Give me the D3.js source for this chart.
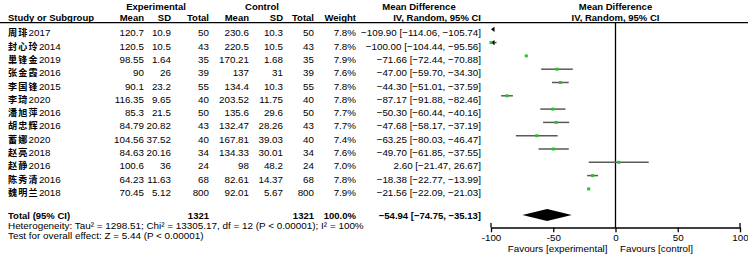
<!DOCTYPE html>
<html><head><meta charset="utf-8">
<script src="https://cdn.jsdelivr.net/npm/d3@7"></script>
<style>
html,body{margin:0;padding:0;background:#fff;}
svg text{font-family:"Liberation Sans",Arial,"Noto Sans CJK SC",sans-serif;fill:#000;}
</style></head>
<body><svg id="c" width="748" height="258"></svg>
<script>
const studies = ["周琲2017","封心玲2014","巢锋金2019","张金霞2016","李国锋2015","李琦2020","潘旭萍2016","胡忠辉2016","蓄娜2020","赵亮2018","赵静2016","陈秀清2016","魏明兰2018"];
const expMean = ["120.7","120.5","98.55","90","90.1","116.35","85.3","84.79","104.56","84.63","100.6","64.23","70.45"];
const expSD = ["10.9","10.5","1.64","26","23.2","9.65","21.5","20.82","37.52","20.16","36","11.63","5.12"];
const expTotal = [50,43,35,39,55,40,50,43,40,34,24,68,800];
const ctlMean = ["230.6","220.5","170.21","137","134.4","203.52","135.6","132.47","167.81","134.33","98","82.61","92.01"];
const ctlSD = ["10.3","10.5","1.68","31","10.3","11.75","29.6","28.26","39.03","30.01","48.2","14.37","5.67"];
const ctlTotal = [50,43,35,39,55,40,50,43,40,34,24,68,800];
const weight = ["7.8%","7.8%","7.9%","7.6%","7.8%","7.8%","7.7%","7.7%","7.4%","7.6%","7.0%","7.8%","7.9%"];
const md = [-109.90,-100.00,-71.66,-47.00,-44.30,-87.17,-50.30,-47.68,-63.25,-49.70,2.60,-18.38,-21.56];
const lower = [-114.06,-104.44,-72.44,-59.70,-51.01,-91.88,-60.44,-58.17,-80.03,-61.85,-21.47,-22.77,-22.09];
const upper = [-105.74,-95.56,-70.88,-34.30,-37.59,-82.46,-40.16,-37.19,-46.47,-37.55,26.67,-13.99,-21.03];
const total = {exp:1321, ctl:1321, weight:"100.0%", md:-54.94, lo:-74.75, hi:-35.13};
const hetText = "Heterogeneity: Tau² = 1298.51; Chi² = 13305.17, df = 12 (P < 0.00001); I² = 100%";
const testText = "Test for overall effect: Z = 5.44 (P < 0.00001)";
const axisTicks = [-100,-50,0,50,100];
const axisLabels = ["-100","-50","0","50","100"];

const svg = d3.select("#c");
const fmt = d3.format(".2f");
const x = d3.scaleLinear().domain([-100,100]).range([491,740]);
const y = d3.scalePoint().domain(d3.range(studies.length)).range([36.3, 36.3+13.3*12]);
const FS = "9.8px", FB = "9.5px";

// header
const hdr = svg.append("g").attr("font-weight","bold").attr("font-size",FB);
const h1 = [["Experimental",156,"middle"],["Control",262,"middle"],["Mean Difference",419,"middle"],["Mean Difference",615.5,"middle"]];
h1.forEach(d=>hdr.append("text").attr("x",d[1]).attr("y",10).attr("text-anchor",d[2]).text(d[0]));
const h2 = [["Study or Subgroup",8,"start"],["Mean",144,"end"],["SD",171,"end"],["Total",209,"end"],["Mean",249,"end"],["SD",283,"end"],["Total",314,"end"],["Weight",356,"end"],["IV, Random, 95% CI",481,"end"],["IV, Random, 95% CI",615.5,"middle"]];
h2.forEach(d=>hdr.append("text").attr("x",d[1]).attr("y",20.5).attr("text-anchor",d[2]).text(d[0]));
svg.append("line").attr("x1",0).attr("x2",748).attr("y1",22.7).attr("y2",22.7).attr("stroke","#000").attr("stroke-width",1.2);

// rows
const cols = [[expMean,144],[expSD,171],[expTotal,209],[ctlMean,249],[ctlSD,283],[ctlTotal,314],[weight,356]];
const rows = svg.append("g").attr("font-size",FS);
studies.forEach((s,i)=>{
  const m = s.match(/^(\D+)(\d+)$/);
  const t = rows.append("text").attr("x",8).attr("y",y(i));
  t.append("tspan").attr("font-family","Noto Sans CJK SC").attr("font-weight","bold").attr("font-size","9.1px").attr("letter-spacing","1.2px").text(m[1]);
  t.append("tspan").text(m[2]);
  cols.forEach(c=>rows.append("text").attr("x",c[1]).attr("y",y(i)).attr("text-anchor","end").text(c[0][i]));
  rows.append("text").attr("x",481).attr("y",y(i)).attr("text-anchor","end")
    .text(`${fmt(md[i])} [${fmt(lower[i])}, ${fmt(upper[i])}]`);
});

// totals
const tg = svg.append("g");
const bT = 218.5;
tg.append("text").attr("x",8).attr("y",bT).attr("font-weight","bold").attr("font-size",FB).text("Total (95% CI)");
tg.append("text").attr("x",209).attr("y",bT).attr("text-anchor","end").attr("font-weight","bold").attr("font-size",FB).text(total.exp);
tg.append("text").attr("x",314).attr("y",bT).attr("text-anchor","end").attr("font-weight","bold").attr("font-size",FB).text(total.ctl);
tg.append("text").attr("x",356).attr("y",bT).attr("text-anchor","end").attr("font-weight","bold").attr("font-size",FB).text(total.weight);
tg.append("text").attr("x",481).attr("y",bT).attr("text-anchor","end").attr("font-weight","bold").attr("font-size",FB)
  .text(`${fmt(total.md)} [${fmt(total.lo)}, ${fmt(total.hi)}]`);
tg.append("text").attr("x",8).attr("y",229).attr("font-size","9.9px").text(hetText);
tg.append("text").attr("x",8).attr("y",239.3).attr("font-size","9.9px").text(testText);

// zero line
svg.append("line").attr("x1",x(0)).attr("x2",x(0)).attr("y1",22.7).attr("y2",227.5).attr("stroke","#000").attr("stroke-width",1.3);

// CIs and markers
const [dmin,dmax] = x.domain();
const cl = v=>Math.max(dmin,Math.min(dmax,v));
const plot = svg.append("g");
studies.forEach((s,i)=>{
  const yc = y(i)-7;
  if (upper[i] > dmin && lower[i] < dmax) {
    plot.append("line").attr("x1",x(cl(lower[i]))).attr("x2",x(cl(upper[i]))).attr("y1",yc).attr("y2",yc)
      .attr("stroke","#5a5a5a").attr("stroke-width",1.5);
  }
  if (lower[i] < dmin) {
    const tx = x(dmin);
    plot.append("path").attr("d",`M${tx},${yc}L${tx+3.5},${yc-2.6}L${tx+3.5},${yc+2.6}Z`).attr("fill","#000");
  }
  if (md[i] >= dmin && md[i] <= dmax) {
    plot.append("rect").attr("x",x(md[i])-1.5).attr("y",yc-1.5).attr("width",3).attr("height",3).attr("fill","#1ecb1e");
  }
});

// diamond
const yd = 215;
plot.append("path").attr("d",`M${x(total.lo)},${yd}L${x(total.md)},${yd-6}L${x(total.hi)},${yd}L${x(total.md)},${yd+6}Z`).attr("fill","#000");

// axis
const ax = svg.append("g").attr("transform","translate(0,227.5)")
  .call(d3.axisBottom(x).tickValues(axisTicks).tickFormat((d,i)=>axisLabels[i]).tickSize(4.8).tickSizeOuter(0).tickPadding(2.2));
ax.select(".domain").attr("stroke","#000").attr("stroke-width",1.3);
ax.selectAll(".tick line").attr("stroke","#000").attr("stroke-width",1.3);
ax.selectAll(".tick text").attr("font-size","9.8px").attr("font-family","Liberation Sans, Arial, sans-serif").attr("fill","#000");
[dmin,dmax].forEach(v=>ax.append("line").attr("x1",x(v)).attr("x2",x(v)).attr("y1",-4.5).attr("y2",0).attr("stroke","#000").attr("stroke-width",1.3));
svg.append("text").attr("x",607.5).attr("y",252).attr("text-anchor","end").attr("font-size",FS).text("Favours [experimental]");
svg.append("text").attr("x",620).attr("y",252).attr("text-anchor","start").attr("font-size",FS).text("Favours [control]");
</script></body></html>
